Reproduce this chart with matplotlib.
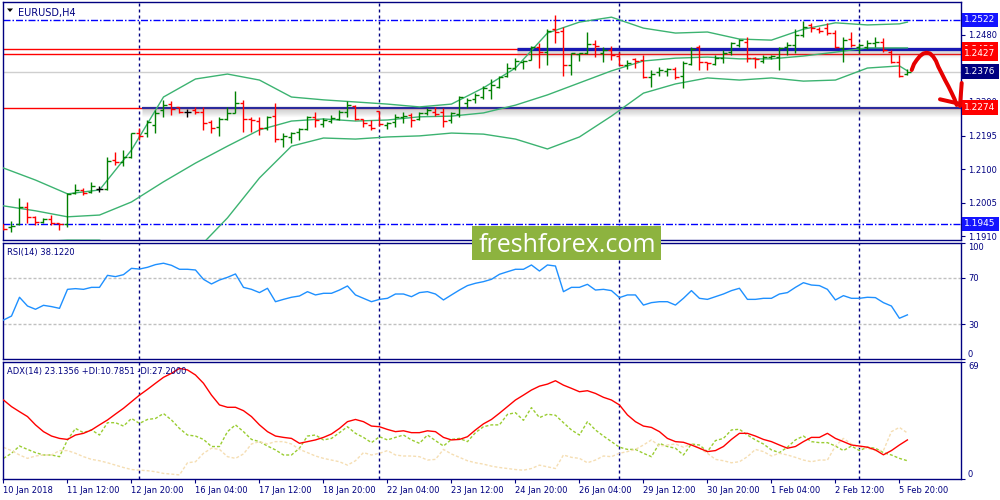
import numpy as np
import matplotlib
matplotlib.use('Agg')
from matplotlib import pyplot as plt
from matplotlib import transforms
from matplotlib.path import Path
from matplotlib.patches import PathPatch, Rectangle, Polygon

# EURUSD H4, 10 Jan - 5 Feb 2018
bar_open = [1.1945, 1.1936, 1.1945, 1.1993, 1.1965, 1.1950, 1.1959, 1.1948, 1.1945, 1.2032,
            1.2041, 1.2035, 1.2044, 1.2044, 1.2126, 1.2120, 1.2134, 1.2202, 1.2202, 1.2225,
            1.2267, 1.2284, 1.2276, 1.2262, 1.2267, 1.2262, 1.2233, 1.2219, 1.2242, 1.2259,
            1.2287, 1.2242, 1.2236, 1.2216, 1.2250, 1.2185, 1.2191, 1.2205, 1.2214, 1.2248,
            1.2228, 1.2236, 1.2242, 1.2262, 1.2279, 1.2242, 1.2225, 1.2264, 1.2225, 1.2233,
            1.2248, 1.2253, 1.2242, 1.2259, 1.2262, 1.2262, 1.2239, 1.2256, 1.2287, 1.2298,
            1.2304, 1.2324, 1.2332, 1.2364, 1.2386, 1.2403, 1.2409, 1.2446, 1.2431, 1.2497,
            1.2491, 1.2395, 1.2426, 1.2429, 1.2454, 1.2429, 1.2437, 1.2420, 1.2395, 1.2412,
            1.2409, 1.2361, 1.2375, 1.2378, 1.2383, 1.2364, 1.2397, 1.2446, 1.2403, 1.2397,
            1.2414, 1.2431, 1.2451, 1.2460, 1.2414, 1.2406, 1.2417, 1.2417, 1.2446, 1.2451,
            1.2480, 1.2508, 1.2497, 1.2499, 1.2485, 1.2443, 1.2468, 1.2446, 1.2446, 1.2457,
            1.2460, 1.2431, 1.2403, 1.2369]
bar_high = [1.1945, 1.1953, 1.2018, 1.2007, 1.1967, 1.1962, 1.1970, 1.1948, 1.2032, 1.2058,
            1.2047, 1.2064, 1.2052, 1.2134, 1.2148, 1.2154, 1.2202, 1.2216, 1.2239, 1.2267,
            1.2296, 1.2293, 1.2276, 1.2270, 1.2276, 1.2276, 1.2239, 1.2248, 1.2276, 1.2321,
            1.2296, 1.2248, 1.2248, 1.2250, 1.2287, 1.2202, 1.2205, 1.2216, 1.2250, 1.2262,
            1.2245, 1.2253, 1.2267, 1.2293, 1.2281, 1.2242, 1.2239, 1.2264, 1.2233, 1.2256,
            1.2262, 1.2259, 1.2262, 1.2273, 1.2276, 1.2273, 1.2262, 1.2307, 1.2301, 1.2315,
            1.2335, 1.2355, 1.2364, 1.2400, 1.2414, 1.2409, 1.2448, 1.2457, 1.2497, 1.2536,
            1.2502, 1.2429, 1.2429, 1.2488, 1.2465, 1.2446, 1.2448, 1.2431, 1.2409, 1.2414,
            1.2423, 1.2381, 1.2389, 1.2386, 1.2389, 1.2406, 1.2446, 1.2451, 1.2403, 1.2423,
            1.2437, 1.2460, 1.2468, 1.2474, 1.2417, 1.2423, 1.2423, 1.2446, 1.2460, 1.2497,
            1.2519, 1.2514, 1.2502, 1.2514, 1.2494, 1.2474, 1.2488, 1.2457, 1.2465, 1.2474,
            1.2471, 1.2437, 1.2423, 1.2383]
bar_low = [1.1928, 1.1922, 1.1942, 1.1948, 1.1942, 1.1948, 1.1942, 1.1928, 1.1936, 1.2030,
           1.2027, 1.2032, 1.2035, 1.2041, 1.2112, 1.2109, 1.2131, 1.2182, 1.2191, 1.2202,
           1.2248, 1.2253, 1.2259, 1.2248, 1.2256, 1.2211, 1.2202, 1.2194, 1.2239, 1.2259,
           1.2205, 1.2205, 1.2197, 1.2211, 1.2177, 1.2163, 1.2174, 1.2182, 1.2211, 1.2219,
           1.2219, 1.2231, 1.2239, 1.2248, 1.2239, 1.2219, 1.2211, 1.2222, 1.2214, 1.2219,
           1.2231, 1.2219, 1.2239, 1.2253, 1.2250, 1.2219, 1.2231, 1.2248, 1.2273, 1.2287,
           1.2298, 1.2298, 1.2330, 1.2361, 1.2381, 1.2383, 1.2409, 1.2386, 1.2395, 1.2457,
           1.2364, 1.2366, 1.2406, 1.2426, 1.2417, 1.2403, 1.2409, 1.2395, 1.2383, 1.2386,
           1.2358, 1.2332, 1.2364, 1.2364, 1.2355, 1.2330, 1.2395, 1.2381, 1.2381, 1.2395,
           1.2400, 1.2423, 1.2446, 1.2403, 1.2386, 1.2400, 1.2412, 1.2381, 1.2423, 1.2429,
           1.2474, 1.2488, 1.2485, 1.2480, 1.2443, 1.2403, 1.2446, 1.2429, 1.2440, 1.2446,
           1.2431, 1.2400, 1.2361, 1.2366]
bar_close = [1.1931, 1.1939, 1.1993, 1.1965, 1.1950, 1.1959, 1.1948, 1.1945, 1.2030, 1.2041,
             1.2032, 1.2052, 1.2044, 1.2123, 1.2120, 1.2134, 1.2202, 1.2194, 1.2233, 1.2259,
             1.2281, 1.2270, 1.2262, 1.2262, 1.2262, 1.2231, 1.2216, 1.2242, 1.2259, 1.2287,
             1.2242, 1.2239, 1.2216, 1.2248, 1.2185, 1.2194, 1.2202, 1.2214, 1.2248, 1.2239,
             1.2239, 1.2245, 1.2262, 1.2281, 1.2242, 1.2231, 1.2216, 1.2228, 1.2231, 1.2248,
             1.2250, 1.2239, 1.2259, 1.2267, 1.2256, 1.2236, 1.2259, 1.2304, 1.2296, 1.2310,
             1.2330, 1.2338, 1.2361, 1.2386, 1.2406, 1.2406, 1.2446, 1.2431, 1.2491, 1.2488,
             1.2395, 1.2429, 1.2429, 1.2454, 1.2448, 1.2437, 1.2423, 1.2395, 1.2400, 1.2406,
             1.2361, 1.2369, 1.2381, 1.2383, 1.2361, 1.2400, 1.2440, 1.2403, 1.2400, 1.2414,
             1.2429, 1.2457, 1.2465, 1.2414, 1.2412, 1.2417, 1.2420, 1.2443, 1.2451, 1.2480,
             1.2502, 1.2499, 1.2491, 1.2485, 1.2446, 1.2465, 1.2451, 1.2451, 1.2457, 1.2460,
             1.2437, 1.2403, 1.2364, 1.2376]

# Bollinger bands (20, 2), read every 4th bar
band_bars = list(range(0, 113, 4)) + [113]
bb_upper = [1.2103, 1.2069, 1.2030, 1.2041, 1.2154, 1.2304, 1.2355, 1.2369, 1.2352, 1.2304,
            1.2296, 1.2290, 1.2284, 1.2276, 1.2284, 1.2330, 1.2386, 1.2485, 1.2516, 1.2530,
            1.2499, 1.2485, 1.2488, 1.2468, 1.2465, 1.2496, 1.2514, 1.2508, 1.2511, 1.2516]
bb_middle = [1.1996, 1.1982, 1.1965, 1.1970, 1.2007, 1.2064, 1.2117, 1.2165, 1.2211, 1.2236,
             1.2242, 1.2236, 1.2239, 1.2248, 1.2250, 1.2259, 1.2281, 1.2310, 1.2344, 1.2378,
             1.2406, 1.2414, 1.2417, 1.2412, 1.2412, 1.2420, 1.2431, 1.2443, 1.2443, 1.2443]
bb_lower = [1.1888, 1.1894, 1.1899, 1.1899, 1.1860, 1.1823, 1.1868, 1.1962, 1.2075, 1.2165,
            1.2188, 1.2185, 1.2191, 1.2194, 1.2202, 1.2199, 1.2185, 1.2157, 1.2191, 1.2250,
            1.2315, 1.2341, 1.2358, 1.2352, 1.2358, 1.2349, 1.2352, 1.2386, 1.2392, 1.2378]

rsi_values = [33.7, 37.1, 53.2, 45.7, 42.9, 46.3, 45.2, 43.7, 60.0, 60.6,
              60.0, 61.7, 61.7, 72.0, 70.9, 72.6, 78.0, 77.4, 78.9, 81.2,
              82.4, 80.6, 77.2, 77.2, 76.6, 68.6, 64.6, 68.0, 70.3, 73.2,
              61.7, 60.0, 57.2, 60.9, 49.4, 51.4, 53.2, 54.3, 58.0, 55.2,
              56.6, 56.6, 59.4, 62.9, 55.2, 52.3, 49.4, 51.4, 52.3, 56.0,
              56.0, 53.7, 57.2, 58.0, 56.0, 50.9, 55.2, 59.4, 63.2, 65.2,
              66.6, 68.6, 72.9, 75.1, 77.2, 77.2, 80.9, 75.7, 80.9, 80.0,
              58.0, 61.7, 61.7, 64.3, 59.4, 60.0, 58.9, 52.9, 55.2, 55.2,
              46.5, 48.6, 49.4, 49.4, 46.5, 52.3, 58.9, 52.3, 51.4, 53.7,
              56.0, 58.9, 60.9, 51.4, 51.4, 52.3, 52.3, 56.0, 57.2, 61.7,
              65.7, 63.7, 63.2, 60.0, 50.9, 54.6, 52.3, 52.3, 53.2, 52.9,
              48.6, 45.7, 35.2, 38.1]

adx_main = [46.7, 42.8, 39.8, 36.9, 32.0, 28.0, 25.4, 24.0, 23.4, 26.0,
            27.0, 29.0, 32.0, 34.9, 38.4, 41.8, 45.7, 49.6, 53.0, 56.6,
            60.1, 62.5, 65.4, 64.5, 61.5, 56.6, 49.6, 43.8, 42.4, 42.4,
            40.4, 36.9, 32.0, 28.0, 25.4, 24.6, 24.0, 21.1, 22.1, 23.1,
            24.6, 26.6, 29.9, 33.9, 35.2, 33.9, 31.3, 30.9, 29.3, 28.0,
            28.5, 27.4, 27.4, 28.5, 28.0, 24.6, 23.1, 23.4, 25.0, 29.0,
            32.6, 35.2, 38.9, 42.8, 46.7, 49.6, 52.6, 54.9, 56.1, 58.1,
            55.5, 53.6, 51.6, 52.2, 50.6, 48.3, 46.7, 43.8, 37.9, 33.9,
            31.3, 30.5, 28.0, 24.0, 22.1, 21.7, 20.1, 18.2, 16.2, 16.8,
            19.2, 23.4, 27.0, 27.0, 25.4, 23.4, 22.1, 20.1, 18.2, 19.2,
            22.1, 24.6, 24.6, 27.0, 24.0, 22.1, 20.1, 19.5, 18.8, 17.2,
            14.3, 16.8, 20.1, 23.1]
plus_di = [12.2, 15.2, 19.5, 17.5, 15.6, 14.2, 14.2, 13.2, 23.1, 29.9,
           27.4, 29.0, 26.0, 33.3, 33.3, 31.3, 35.8, 32.9, 35.2, 35.8,
           38.7, 34.9, 29.9, 26.0, 25.4, 23.4, 19.2, 19.2, 28.0, 32.0,
           28.0, 23.4, 22.1, 19.5, 17.2, 14.2, 14.2, 18.2, 25.4, 26.0,
           23.1, 24.0, 27.4, 30.9, 27.0, 24.6, 21.5, 25.0, 23.1, 24.6,
           26.0, 23.1, 21.1, 26.0, 22.7, 19.5, 23.4, 24.0, 22.1, 27.4,
           30.9, 32.0, 32.0, 38.2, 39.2, 34.7, 42.2, 36.3, 38.3, 37.7,
           33.3, 29.0, 26.0, 33.9, 29.0, 25.4, 22.1, 18.8, 17.5, 17.5,
           15.2, 13.2, 21.1, 19.2, 18.2, 14.2, 20.7, 20.1, 16.2, 22.7,
           24.0, 29.0, 29.4, 26.0, 23.1, 20.7, 17.2, 15.6, 18.8, 23.1,
           25.4, 22.1, 21.5, 21.5, 19.5, 16.8, 19.5, 16.8, 18.8, 18.2,
           15.6, 14.2, 12.2, 10.8]
minus_di = [18.7, 16.8, 14.2, 12.2, 13.6, 14.2, 14.2, 16.8, 16.8, 15.2,
            13.2, 11.6, 10.8, 9.6, 8.2, 6.8, 5.6, 5.2, 4.9, 4.3,
            3.3, 2.9, 2.4, 9.6, 10.2, 15.2, 18.2, 17.5, 13.2, 12.2,
            14.8, 20.7, 22.1, 20.7, 22.1, 22.1, 20.7, 17.5, 15.6, 13.6,
            12.2, 11.2, 10.2, 8.2, 10.8, 15.6, 14.2, 15.2, 16.8, 14.2,
            13.6, 13.6, 13.2, 11.2, 11.6, 17.5, 14.8, 12.8, 10.8, 9.6,
            8.8, 7.6, 6.8, 6.2, 5.6, 5.2, 6.2, 8.2, 7.2, 6.2,
            14.2, 12.8, 12.2, 9.6, 11.2, 13.6, 13.2, 15.2, 16.2, 17.5,
            20.1, 23.1, 19.5, 20.1, 20.7, 18.8, 20.7, 18.2, 15.2, 11.6,
            10.8, 9.6, 10.2, 13.2, 17.5, 16.2, 13.6, 15.2, 14.2, 12.8,
            11.2, 10.2, 11.2, 11.2, 19.5, 24.0, 20.7, 18.8, 18.2, 16.8,
            16.8, 28.0, 30.5, 27.2]

date_labels = ['10 Jan 2018', '11 Jan 12:00', '12 Jan 20:00', '16 Jan 04:00', '17 Jan 12:00',
               '18 Jan 20:00', '22 Jan 04:00', '23 Jan 12:00', '24 Jan 20:00', '26 Jan 04:00',
               '29 Jan 12:00', '30 Jan 20:00', '1 Feb 04:00', '2 Feb 12:00', '5 Feb 20:00']
date_bars = list(range(0, 113, 8))
separator_bars = [17, 47, 77, 107]

price_ticks = [1.2480, 1.2385, 1.2290, 1.2195, 1.2100, 1.2005, 1.1910]
range_top, range_bottom = 1.2522, 1.1945
resistance_levels = [1.2439, 1.2427]
resistance_line = 1.2439
resistance_start = 64.2
support_level = 1.2274
support_start = 17.3
last_price = 1.2376

NAVY = '#000080'
PX = 0.72  # one screen pixel in points

fig = plt.figure(figsize=(10, 5), dpi=100)
fig.patch.set_facecolor('white')
plt.rcParams['font.family'] = ['DejaVu Sans']


def panel(left, top, right, bottom):
    ax = fig.add_axes([left / 1000, 1 - bottom / 500, (right - left) / 1000, (bottom - top) / 500])
    for sp in ax.spines.values():
        sp.set_color(NAVY)
        sp.set_linewidth(1.0)
    ax.set_xlim(-0.1, 119.7)
    ax.set_xticks([])
    ax.yaxis.tick_right()
    ax.tick_params(axis='y', direction='out', length=3, width=0.8, color=NAVY,
                   labelcolor=NAVY, labelsize=6, pad=2)
    for b in separator_bars:
        ax.axvline(b, color=NAVY, lw=1.0, dashes=(3 * PX, 3 * PX), zorder=1)
    return ax


ax = panel(2.7, 2, 961, 239.5)
ax_rsi = panel(2.7, 242.7, 961, 359.3)
ax_adx = panel(2.7, 362.3, 961, 479)

# ---- price panel ----
ymin, ymax = 1.19008, 1.25729
ax.set_ylim(ymin, ymax)
ppx = (ymax - ymin) / 237.5  # price per pixel
ax.set_yticks(price_ticks)
ax.set_yticklabels(['%.4f' % p for p in price_ticks])

dashdot = (7 * PX, 2 * PX, 1.5 * PX, 2 * PX)
ax.axhline(range_top, color='#0000ff', lw=1.0, dashes=dashdot, zorder=2)
ax.axhline(range_bottom, color='#0000ff', lw=1.0, dashes=dashdot, zorder=2)
ax.axhline(last_price, color='#cfcfcf', lw=1.0, zorder=1.5)
for lvl in resistance_levels:
    ax.axhline(lvl, color='#ff0000', lw=1.0, zorder=2)
ax.axhline(support_level, color='#ff0000', lw=1.0, zorder=2)


def trend_line(level, start, color, width):
    right = ax.get_xlim()[1]
    for k in range(1, 9):
        ax.hlines(level - k * ppx, start, right, color='#808080',
                  alpha=0.32 * (1 - k / 9), lw=1.0, zorder=2.1)
    for k in (1, 2):
        ax.hlines(level + k * ppx, start, right, color='#808080',
                  alpha=0.15 / k, lw=1.0, zorder=2.1)
    ax.hlines(level, start, right, color=color, lw=width, zorder=2.3)


trend_line(support_level, support_start, '#2b2b9c', 1.5)
trend_line(resistance_line, resistance_start, '#1818b4', 2.3)

ax.plot(band_bars, bb_upper, color='#3cb371', lw=1.0, zorder=3)
ax.plot(band_bars, bb_middle, color='#3cb371', lw=1.0, zorder=3)
ax.plot(band_bars, bb_lower, color='#3cb371', lw=1.0, zorder=3)

idx = np.arange(len(bar_close))
o = np.array(bar_open)
c = np.array(bar_close)
bar_colors = np.where(c > o, '#008000', np.where(c < o, '#ff0000', '#000000'))
ax.vlines(idx, bar_low, bar_high, colors=bar_colors, lw=1.0, zorder=4)
ax.hlines(o, idx - 0.4, idx, colors=bar_colors, lw=1.0, zorder=4)
ax.hlines(c, idx, idx + 0.4, colors=bar_colors, lw=1.0, zorder=4)

# boxed price markers on the right scale
yblend = transforms.blended_transform_factory(ax.transAxes, ax.transData)
boxed = [(range_top, '#1414ff'), (resistance_levels[0], '#ff0000'),
         (resistance_levels[1], '#ff0000'), (last_price, NAVY),
         (support_level, '#ff0000'), (range_bottom, '#1414ff')]
for price, col in boxed:
    ax.text(1.0035, price, '%.4f' % price, transform=yblend, ha='left', va='center',
            color='white', fontsize=6.5, clip_on=False, zorder=20,
            bbox=dict(boxstyle='square,pad=0.3', fc=col, ec='none'))

ax.text(0.016, 0.955, 'EURUSD,H4', transform=ax.transAxes, color=NAVY,
        fontsize=7, ha='left', va='center')

# ---- RSI panel ----
ax_rsi.set_ylim(0, 100)
ax_rsi.axhline(70, color='#c0c0c0', lw=1.0, dashes=(3 * PX, 2 * PX), zorder=1)
ax_rsi.axhline(30, color='#c0c0c0', lw=1.0, dashes=(3 * PX, 2 * PX), zorder=1)
ax_rsi.plot(idx, rsi_values, color='#1e90ff', lw=1.0, zorder=3)
ax_rsi.set_yticks([0, 30, 70, 100])
ax_rsi.set_yticklabels(['0', '30', '70', '100'])
ticks = ax_rsi.yaxis.get_major_ticks()
ticks[0].label2.set_va('bottom')
ticks[-1].label2.set_va('top')
ax_rsi.text(0.005, 0.92, 'RSI(14) %.4f' % 38.1220, transform=ax_rsi.transAxes,
            color=NAVY, fontsize=6, ha='left', va='center')

# ---- ADX panel ----
ax_adx.set_ylim(0, 69)
ax_adx.plot(idx, plus_di, color='#9acd32', lw=1.0, dashes=(3 * PX, 2 * PX), zorder=2)
ax_adx.plot(idx, minus_di, color='#f5deb3', lw=1.0, dashes=(3 * PX, 2 * PX), zorder=2)
ax_adx.plot(idx, adx_main, color='#ff0000', lw=1.0, zorder=3)
ax_adx.set_yticks([0, 69])
ax_adx.set_yticklabels(['0', '69'])
ticks = ax_adx.yaxis.get_major_ticks()
ticks[0].label2.set_va('bottom')
ticks[-1].label2.set_va('top')
ax_adx.text(0.005, 0.92, 'ADX(14) 23.1356 +DI:10.7851 -DI:27.2000',
            transform=ax_adx.transAxes, color=NAVY, fontsize=6, ha='left', va='center')
ax_adx.set_xticks(date_bars)
ax_adx.set_xticklabels(date_labels)
ax_adx.tick_params(axis='x', direction='out', length=3, width=0.8, color=NAVY,
                   labelcolor=NAVY, labelsize=6, pad=2)
for lbl in ax_adx.get_xticklabels():
    lbl.set_ha('left')

# ---- overlays in screen pixels ----
to_fig = transforms.Affine2D().scale(1 / 1000, -1 / 500).translate(0, 1) + fig.transFigure

fig.add_artist(Polygon([(7, 8.5), (13, 8.5), (10, 12)], closed=True, fc='black',
                       ec='none', transform=to_fig, zorder=30))

fig.add_artist(Rectangle((471.7, 225.7), 189.3, 34.3, fc='#8db33f', ec='none',
                         transform=to_fig, zorder=40))
fig.text(567, 252, 'freshforex.com', transform=to_fig, color='white',
         fontsize=18, family='Open Sans', ha='center', va='baseline', zorder=41)

curve = [(911.7, 70), (914, 64), (916.7, 60), (920, 56), (923.3, 53.5), (926.7, 52.7),
         (930, 53.5), (933.3, 56.7), (936, 61), (938.3, 66.7), (941.5, 73), (945, 80),
         (948.5, 86.5), (951.7, 93), (954.5, 99), (956.7, 105)]
arrow_style = dict(fc='none', ec='#e60000', lw=4 * PX, capstyle='round',
                   joinstyle='round', transform=to_fig, zorder=45)
fig.add_artist(PathPatch(Path(curve), **arrow_style))
fig.add_artist(PathPatch(Path([(940, 99.3), (958.3, 103.5)]), **arrow_style))
fig.add_artist(PathPatch(Path([(961.7, 83), (960, 106)]), **arrow_style))

fig.savefig('out.png', dpi=100, facecolor='white')
